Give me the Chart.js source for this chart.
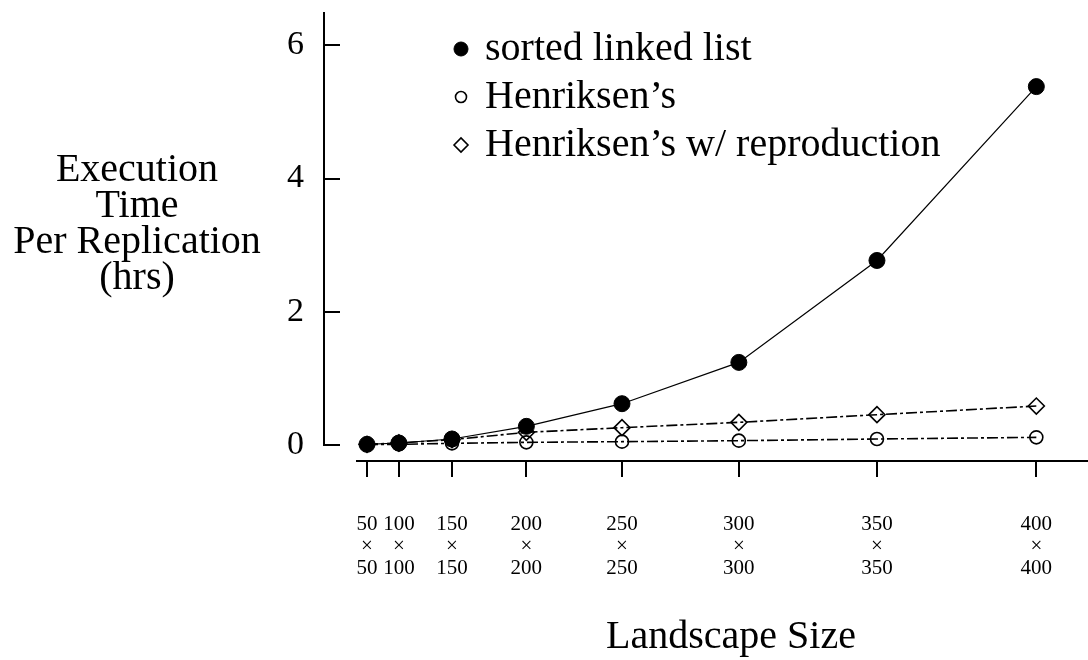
<!DOCTYPE html>
<html>
<head>
<meta charset="utf-8">
<script src="https://cdn.jsdelivr.net/npm/chart.js@4/dist/chart.umd.min.js"></script>
<style>
  html, body { margin: 0; padding: 0; background: #fff; }
  #wrap { position: relative; width: 1088px; height: 660px; }
</style>
</head>
<body>
<div id="wrap"><canvas id="c" width="1088" height="660"></canvas></div>
<script>
// Landscape edge length (grid is n x n cells)
const sizes = [50, 100, 150, 200, 250, 300, 350, 400];
// Execution time per replication, hours
const sortedLinkedList = [0.01, 0.03, 0.09, 0.28, 0.62, 1.24, 2.77, 5.38];
const henriksen        = [0.005, 0.01, 0.025, 0.04, 0.05, 0.065, 0.09, 0.115];
const henriksenRepro   = [0.01, 0.03, 0.08, 0.19, 0.26, 0.34, 0.455, 0.585];
const yTicks = [0, 2, 4, 6];
const seriesLabels = ['sorted linked list', 'Henriksen\u2019s', 'Henriksen\u2019s w/ reproduction'];
const yTitleLines = ['Execution', 'Time', 'Per Replication', '(hrs)'];
const xTitle = 'Landscape Size';

const FONT = '"Liberation Serif", "Times New Roman", serif';
Chart.defaults.font.family = FONT;
Chart.defaults.color = '#000';

// horizontal position is the number of cells in the landscape
const pts = vals => sizes.map((n, i) => ({ x: n * n, y: vals[i] }));

// no extra room reserved for overhanging tick labels
const noPad = s => { s.paddingLeft = s.paddingRight = s.paddingTop = s.paddingBottom = 0; };

// axis lines drawn as a detached frame, plus titles and legend
const framePlugin = {
  id: 'frame',
  afterDraw(chart) {
    const { ctx, chartArea: a, scales: { x, y } } = chart;
    ctx.save();
    ctx.strokeStyle = '#000';
    ctx.lineWidth = 2;
    ctx.lineCap = 'butt';
    // y axis
    const y0 = y.getPixelForValue(0);
    ctx.beginPath();
    ctx.moveTo(a.left, a.top);
    ctx.lineTo(a.left, y0 + 1);
    yTicks.forEach(v => {
      const p = Math.round(y.getPixelForValue(v));
      ctx.moveTo(a.left, p);
      ctx.lineTo(a.left + 16, p);
    });
    ctx.stroke();
    // x axis, offset below the plotting area, running to the canvas edge
    const xa = a.bottom + 16;
    ctx.beginPath();
    ctx.moveTo(a.left + 32, xa);
    ctx.lineTo(chart.width, xa);
    x.ticks.forEach(t => {
      const p = Math.round(x.getPixelForValue(t.value));
      ctx.moveTo(p, xa);
      ctx.lineTo(p, xa + 16);
    });
    ctx.stroke();

    // axis titles
    ctx.fillStyle = '#000';
    ctx.textAlign = 'center';
    ctx.textBaseline = 'middle';
    ctx.font = '40px ' + FONT;
    yTitleLines.forEach((s, i) => ctx.fillText(s, 137, 170 + i * 36));
    ctx.fillText(xTitle, 731, 637);

    // legend
    const lx = 461, ly = 49, step = 48;
    chart.data.datasets.forEach((ds, i) => {
      const cy = ly + i * step;
      ctx.lineWidth = ds.pointBorderWidth;
      ctx.strokeStyle = ds.pointBorderColor;
      ctx.fillStyle = ds.pointBackgroundColor;
      ctx.beginPath();
      if (ds.pointStyle === 'rectRot') {
        const r = ds.pointRadius - 1;
        ctx.moveTo(lx - r, cy); ctx.lineTo(lx, cy - r);
        ctx.lineTo(lx + r, cy); ctx.lineTo(lx, cy + r);
        ctx.closePath();
      } else {
        ctx.arc(lx, cy, ds.pointRadius - 1, 0, Math.PI * 2);
      }
      ctx.fill();
      ctx.stroke();
      ctx.fillStyle = '#000';
      ctx.textAlign = 'left';
      ctx.fillText(ds.label, lx + 24, cy);
    });
    ctx.restore();
  }
};

new Chart(document.getElementById('c'), {
  type: 'line',
  data: {
    datasets: [
      {
        label: seriesLabels[0],
        data: pts(sortedLinkedList),
        borderColor: '#000', borderWidth: 1.2,
        pointStyle: 'circle', pointRadius: 8,
        pointBackgroundColor: '#000', pointBorderColor: '#000', pointBorderWidth: 1,
        clip: false
      },
      {
        label: seriesLabels[1],
        data: pts(henriksen),
        borderColor: '#000', borderWidth: 1.6, borderDash: [11, 3, 3, 3],
        pointStyle: 'circle', pointRadius: 6.5,
        pointBackgroundColor: 'rgba(0,0,0,0)', pointBorderColor: '#000', pointBorderWidth: 1.6,
        clip: false
      },
      {
        label: seriesLabels[2],
        data: pts(henriksenRepro),
        borderColor: '#000', borderWidth: 1.6, borderDash: [11, 3, 3, 3],
        pointStyle: 'rectRot', pointRadius: 8,
        pointBackgroundColor: 'rgba(0,0,0,0)', pointBorderColor: '#000', pointBorderWidth: 1.6,
        clip: false
      }
    ]
  },
  options: {
    responsive: false,
    animation: false,
    devicePixelRatio: 1,
    layout: { padding: { top: 12, right: 0, left: 0, bottom: 0 } },
    plugins: { legend: { display: false }, tooltip: { enabled: false } },
    elements: { line: { tension: 0 } },
    scales: {
      x: {
        type: 'linear',
        min: -7620, max: 169900,
        grid: { display: false }, border: { display: false },
        afterBuildTicks: s => { s.ticks = sizes.map(n => ({ value: n * n })); },
        afterFit: s => { s.height = 215; noPad(s); },
        ticks: {
          autoSkip: false, maxRotation: 0, padding: 61,
          font: { size: 21, lineHeight: 1.03 },
          callback: (v) => {
            const n = Math.round(Math.sqrt(v));
            return [String(n), '\u00d7', String(n)];
          }
        }
      },
      y: {
        type: 'linear',
        min: 0, max: 6.5,
        grid: { display: false }, border: { display: false },
        afterBuildTicks: s => { s.ticks = yTicks.map(v => ({ value: v })); },
        afterFit: s => { s.width = 324; noPad(s); },
        ticks: { padding: 12, font: { size: 34 } }
      }
    }
  },
  plugins: [framePlugin]
});
</script>
</body>
</html>
